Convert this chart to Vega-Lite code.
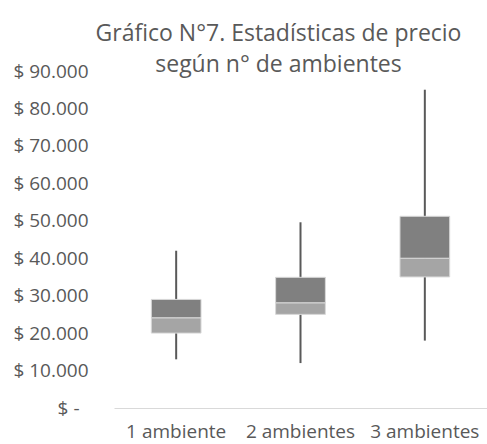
{
  "$schema": "https://vega.github.io/schema/vega-lite/v6.json",
  "width": 373,
  "height": 337,
  "autosize": {"type": "none"},
  "padding": {"left": 114, "top": 71, "right": 0, "bottom": 36},
  "background": "white",
  "config": {
    "view": {"stroke": null},
    "font": "Open Sans"
  },
  "title": {
    "text": ["Gráfico N°7. Estadísticas de precio", "según n° de ambientes"],
    "font": "Open Sans",
    "fontSize": 23,
    "fontWeight": "normal",
    "color": "#595959",
    "lineHeight": 31,
    "anchor": "middle",
    "dx": -22,
    "offset": -15
  },
  "data": {
    "values": [
      {"ambientes": "1 ambiente", "min": 13000, "q1": 20000, "mediana": 24100, "q3": 29000, "max": 42000},
      {"ambientes": "2 ambientes", "min": 12000, "q1": 25000, "mediana": 28100, "q3": 34900, "max": 49600},
      {"ambientes": "3 ambientes", "min": 18000, "q1": 35000, "mediana": 40000, "q3": 51200, "max": 85000}
    ]
  },
  "encoding": {
    "x": {
      "field": "ambientes",
      "type": "nominal",
      "sort": null,
      "title": null,
      "scale": {"paddingInner": 0.6, "paddingOuter": 0.3},
      "axis": {
        "labelAngle": 0,
        "labelFont": "Open Sans",
        "labelFontSize": 19,
        "labelColor": "#595959",
        "labelPadding": 14,
        "ticks": false,
        "domainColor": "#d9d9d9",
        "domainWidth": 1
      }
    }
  },
  "layer": [
    {
      "mark": {"type": "rule", "color": "#595959", "strokeWidth": 2},
      "encoding": {
        "y": {
          "field": "min",
          "type": "quantitative",
          "title": null,
          "scale": {"domain": [0, 90000], "nice": false, "zero": true},
          "axis": {
            "values": [0, 10000, 20000, 30000, 40000, 50000, 60000, 70000, 80000, 90000],
            "tickCount": 20,
            "labelExpr": "datum.value == 0 ? '$ -' : '$ ' + format(datum.value / 1000, 'd') + '.000'",
            "labelFont": "Open Sans",
            "labelFontSize": 19,
            "labelColor": "#595959",
            "labelPadding": {"condition": {"test": "datum.value == 0", "value": 35}, "value": 26},
            "labelOverlap": false,
            "labelFlush": false,
            "labelBound": false,
            "ticks": false,
            "domain": false,
            "grid": false
          }
        },
        "y2": {"field": "max"}
      }
    },
    {
      "mark": {"type": "bar", "color": "#a5a5a5", "stroke": "#d9d9d9", "strokeWidth": 1},
      "encoding": {
        "y": {"field": "q1", "type": "quantitative"},
        "y2": {"field": "mediana"}
      }
    },
    {
      "mark": {"type": "bar", "color": "#808080", "stroke": "#d9d9d9", "strokeWidth": 1},
      "encoding": {
        "y": {"field": "mediana", "type": "quantitative"},
        "y2": {"field": "q3"}
      }
    }
  ]
}
